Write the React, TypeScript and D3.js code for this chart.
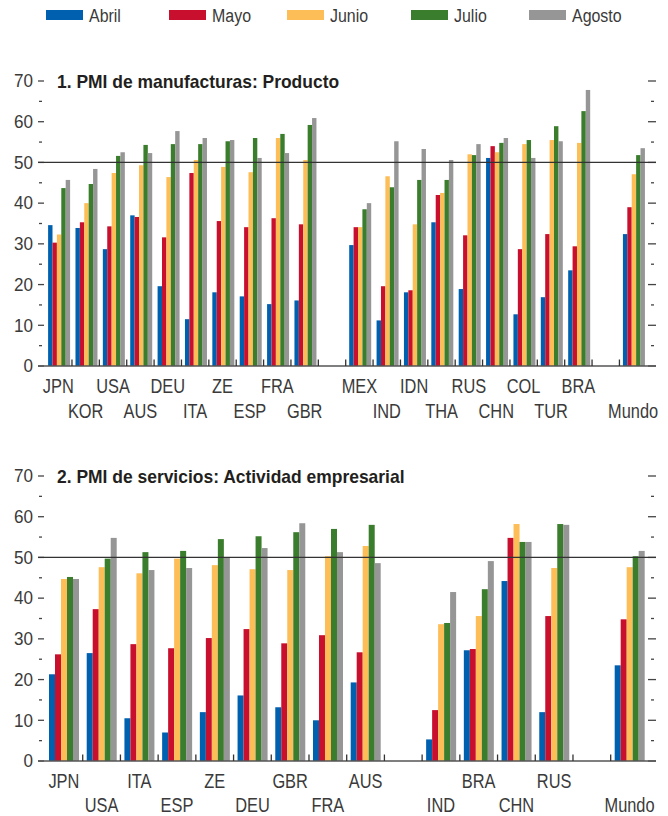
import React from "react";
import * as d3 from "d3";

const seriesNames = ["Abril", "Mayo", "Junio", "Julio", "Agosto"];
const seriesColors = ["#0060b0", "#c8102e", "#fdbd57", "#3a7d2c", "#969696"];

// Panel 1: manufacturing (null = empty slot)
const manuSlots = ["JPN", "KOR", "USA", "AUS", "DEU", "ITA", "ZE", "ESP", "FRA", "GBR", null, "MEX", "IND", "IDN", "THA", "RUS", "CHN", "COL", "TUR", "BRA", null, "Mundo"];
const manuAbril = [34.6, 33.9, 28.7, 37.0, 19.6, 11.5, 18.1, 17.1, 15.2, 16.1, 29.7, 11.2, 18.1, 35.3, 18.9, 51.1, 12.7, 16.9, 23.5, 32.4];
const manuMayo = [30.3, 35.3, 34.3, 36.6, 31.6, 47.4, 35.6, 34.1, 36.3, 34.8, 34.1, 19.6, 18.6, 42.0, 32.1, 54.0, 28.7, 32.4, 29.4, 39.0];
const manuJunio = [32.3, 40.0, 47.4, 49.3, 46.4, 50.6, 48.9, 47.6, 56.0, 50.6, 34.1, 46.6, 34.8, 42.5, 52.0, 52.5, 54.5, 55.5, 54.8, 47.1];
const manuJulio = [43.7, 44.7, 51.6, 54.3, 54.5, 54.5, 55.2, 56.0, 57.0, 59.2, 38.5, 43.9, 45.7, 45.7, 51.8, 54.8, 55.5, 58.9, 62.6, 51.8];
const manuAgosto = [45.7, 48.4, 52.5, 52.3, 57.7, 56.0, 55.5, 51.1, 52.3, 60.9, 40.0, 55.2, 53.3, 50.6, 54.5, 56.0, 51.1, 55.2, 67.8, 53.5];

// Panel 2: services
const servSlots = ["JPN", "USA", "ITA", "ESP", "ZE", "DEU", "GBR", "FRA", "AUS", null, "IND", "BRA", "CHN", "RUS", null, "Mundo"];
const servAbril = [21.3, 26.5, 10.5, 7.0, 12.0, 16.1, 13.2, 10.0, 19.3, 5.3, 27.2, 44.2, 12.0, 23.5];
const servMayo = [26.2, 37.3, 28.7, 27.7, 30.2, 32.4, 28.9, 30.9, 26.7, 12.5, 27.5, 54.8, 35.6, 34.8];
const servJunio = [44.7, 47.6, 46.1, 49.7, 48.1, 47.1, 46.9, 50.3, 52.8, 33.6, 35.6, 58.2, 47.4, 47.6];
const servJulio = [45.2, 49.7, 51.3, 51.6, 54.5, 55.2, 56.2, 57.0, 58.0, 33.9, 42.2, 53.8, 58.2, 50.3];
const servAgosto = [44.7, 54.8, 46.9, 47.4, 50.1, 52.3, 58.4, 51.3, 48.6, 41.5, 49.1, 53.8, 58.0, 51.6];

const yTicks = [0, 10, 20, 30, 40, 50, 60, 70];
const yMinor = [5, 15, 25, 35, 45, 55, 65];

const FONT = "'Liberation Sans', Arial, sans-serif";
const TXT = "#3a3a3a";

function Panel({ title, slots, values, x0, x1, yBottom, yTop, groupOffset, groupWidth, row1, row2 }) {
  const y = d3.scaleLinear().domain([0, 70]).range([yBottom, yTop]);
  const xb = d3.scaleBand().domain(slots.map((_, i) => String(i))).range([x0, x1]).padding(0);
  const bw = xb.bandwidth();
  const inner = d3.scaleBand().domain(seriesNames).range([0, groupWidth]).padding(0);
  const cats = [];
  slots.forEach((s, i) => { if (s !== null) cats.push({ name: s, slot: i }); });
  const lineX0 = 38, lineX1 = 656;
  return (
    <g>
      {/* y ticks left */}
      {yTicks.map((t) => (
        <g key={"t" + t}>
          <line x1={38} x2={44} y1={y(t)} y2={y(t)} stroke="#444" strokeWidth={1.3} />
          <line x1={648} x2={656} y1={y(t)} y2={y(t)} stroke="#444" strokeWidth={1.3} />
          <text transform={`translate(33,${y(t) + 6.3}) scale(0.95,1)`} textAnchor="end" fontSize={18} fill={TXT} fontFamily={FONT}>{t}</text>
        </g>
      ))}
      {yMinor.map((t) => (
        <g key={"m" + t}>
          <line x1={39} x2={42} y1={y(t)} y2={y(t)} stroke="#444" strokeWidth={1.3} />
          <line x1={651} x2={654} y1={y(t)} y2={y(t)} stroke="#444" strokeWidth={1.3} />
        </g>
      ))}
      {/* bars */}
      {cats.map((c, ci) => {
        const gx = xb(String(c.slot)) + groupOffset;
        return seriesNames.map((s, si) => {
          const v = values[si][ci];
          return (
            <rect key={c.name + s} x={gx + inner(s)} width={inner.bandwidth()} y={y(v)} height={y(0) - y(v)} fill={seriesColors[si]} />
          );
        });
      })}
      {/* 50 line */}
      <line x1={lineX0} x2={lineX1} y1={y(50)} y2={y(50)} stroke="#333" strokeWidth={1.2} />
      {/* baseline */}
      <line x1={lineX0} x2={lineX1} y1={y(0)} y2={y(0)} stroke="#555" strokeWidth={1.6} />
      {/* separators */}
      {slots.slice(1).map((_, i) => {
        const sx = xb(String(i + 1));
        return <line key={"s" + i} x1={sx} x2={sx} y1={y(0)} y2={y(0) - 6.5} stroke="#333" strokeWidth={1.3} />;
      })}
      {/* category labels */}
      {cats.map((c, ci) => (
        <text key={"l" + c.name} transform={`translate(${xb(String(c.slot)) + bw / 2},${ci % 2 === 0 ? row1 : row2}) scale(0.82,1)`} textAnchor="middle" fontSize={20} fill={TXT} fontFamily={FONT}>{c.name}</text>
      ))}
      {/* title */}
      <text transform={`translate(57,${yTop + 7}) scale(0.97,1)`} fontSize={18} fontWeight="bold" fill="#231f20" fontFamily={FONT}>{title}</text>
    </g>
  );
}

const legendX = [46, 169, 287, 411, 529];

export default function App() {
  return (
    <svg width={668} height={816} style={{ position: "absolute", left: 0, top: 0, background: "#fff" }}>
      {seriesNames.map((s, i) => (
        <g key={s}>
          <rect x={legendX[i]} y={10} width={37} height={10} fill={seriesColors[i]} />
          <text transform={`translate(${legendX[i] + 43},22) scale(0.84,1)`} fontSize={19} fill={TXT} fontFamily={FONT}>{s}</text>
        </g>
      ))}
      <Panel
        title="1. PMI de manufacturas: Producto"
        slots={manuSlots}
        values={[manuAbril, manuMayo, manuJunio, manuJulio, manuAgosto]}
        x0={44.6}
        x1={646.8}
        yBottom={366}
        yTop={81}
        groupOffset={3.5}
        groupWidth={22}
        row1={393}
        row2={418}
      />
      <Panel
        title="2. PMI de servicios: Actividad empresarial"
        slots={servSlots}
        values={[servAbril, servMayo, servJunio, servJulio, servAgosto]}
        x0={45}
        x1={648.4}
        yBottom={761}
        yTop={476}
        groupOffset={4}
        groupWidth={30}
        row1={788}
        row2={812}
      />
    </svg>
  );
}
